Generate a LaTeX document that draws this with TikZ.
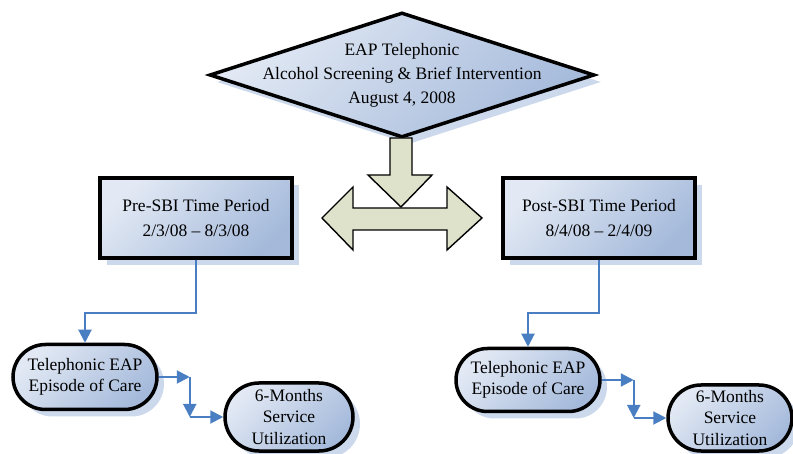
\documentclass[tikz,border=0pt]{standalone}
\usepackage{fontspec}
\setmainfont{Liberation Serif}
\usepackage{xcolor}
\usetikzlibrary{arrows.meta,shapes.geometric,shapes.misc,shadows}

\definecolor{boxlight}{HTML}{E2E9F4}
\definecolor{boxdark}{HTML}{A5BADB}
\definecolor{shadowblue}{HTML}{C6D4EA}
\definecolor{arrowfill}{HTML}{DEE2CB}
\definecolor{connblue}{HTML}{4A7EC2}

\begin{document}
\begin{tikzpicture}[x=1pt,y=1pt,line join=miter,
  shaded/.style={top color=boxlight,bottom color=boxdark,shading angle=45,
    drop shadow={shadow xshift=7pt,shadow yshift=-7pt,fill=shadowblue,opacity=0.9}},
  diam/.style={diamond,shaded,draw=black,line width=3.5pt,inner sep=0pt},
  period/.style={rectangle,shaded,draw=black,line width=3.5pt,
    font=\fontsize{17.5}{25}\selectfont,align=center},
  episode/.style={rounded rectangle,shaded,draw=black,line width=3.5pt,inner sep=0pt,
    font=\fontsize{17.5}{21.5}\selectfont,align=center},
  blockarrow/.style={fill=arrowfill,draw=black,line width=1.4pt},
  conn/.style={draw=connblue,line width=2pt,-{Triangle[length=13pt,width=13pt]}}]
  \useasboundingbox (0,0) rectangle (793,-454);

  \node[diam,minimum width=385pt,minimum height=125pt] (eap) at (402,-75) {};
  \node[font=\fontsize{17.5}{24}\selectfont,align=center] (eaptext) at (eap.center)
    {EAP Telephonic\\Alcohol Screening \& Brief Intervention\\August 4, 2008};

  \draw[blockarrow] (322,-218) -- (353,-187) -- (353,-208) -- (447,-208) -- (447,-187)
    -- (482,-218) -- (447,-250) -- (447,-230) -- (353,-230) -- (353,-250) -- cycle;
  \draw[blockarrow] (390,-138) -- (412,-138) -- (412,-175) -- (432,-175) -- (401,-207)
    -- (368,-175) -- (390,-175) -- cycle;

  \node[period,minimum width=192pt,minimum height=80pt] (pre) at (196,-218)
    {Pre-SBI Time Period\\2/3/08 -- 8/3/08};
  \node[period,minimum width=192pt,minimum height=80pt] (post) at (599,-218)
    {Post-SBI Time Period\\8/4/08 -- 2/4/09};

  \node[episode,minimum width=144pt,minimum height=65pt] (epL) at (85,-377)
    {Telephonic EAP\\Episode of Care};
  \node[episode,minimum width=144pt,minimum height=63pt] (epR) at (528,-380)
    {Telephonic EAP\\Episode of Care};
  \node[episode,minimum width=128pt,minimum height=68pt] (utL) at (289,-417)
    {6-Months\\Service\\Utilization};
  \node[episode,minimum width=124pt,minimum height=66pt] (utR) at (730,-418)
    {6-Months\\Service\\Utilization};

  \coordinate (bendL) at (196,-313);
  \coordinate (bendR) at (599,-313);
  \draw[conn] (pre.south) -- (bendL) -| (epL.north);
  \draw[conn] (post.south) -- (bendR) -| (epR.north);

  \path (epL.east) ++(31,0) coordinate (c1L);
  \coordinate (c2L) at (c1L |- utL.west);
  \draw[conn] (epL.east) -- (c1L);
  \draw[conn] (c1L) -- (c2L);
  \draw[conn] (c2L) -- (utL.west);

  \path (epR.east) ++(32,0) coordinate (c1R);
  \coordinate (c2R) at (c1R |- utR.west);
  \draw[conn] (epR.east) -- (c1R);
  \draw[conn] (c1R) -- (c2R);
  \draw[conn] (c2R) -- (utR.west);
\end{tikzpicture}
\end{document}
